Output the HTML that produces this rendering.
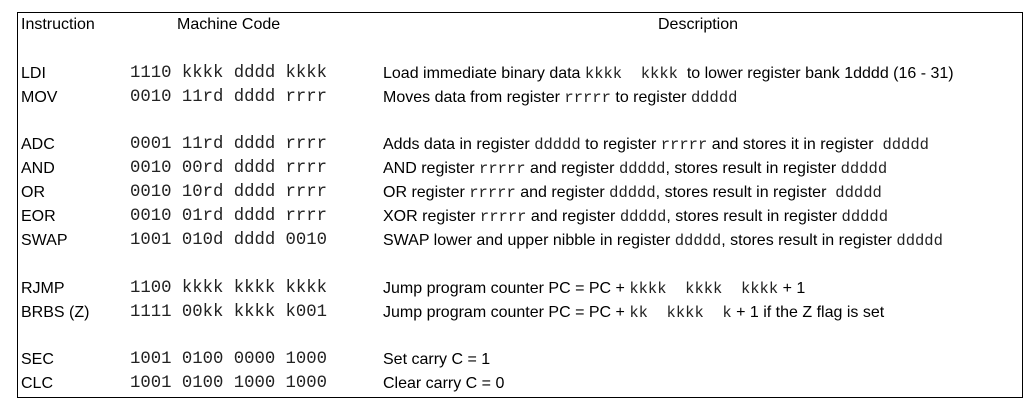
<!DOCTYPE html>
<html><head><meta charset="utf-8"><style>
body{margin:0;width:1031px;height:408px;background:#fff;position:relative;overflow:hidden;font-family:"Liberation Sans",sans-serif;font-size:16px;color:#000}
#box{position:absolute;left:17px;top:12px;width:1004px;height:384px;border:1px solid #000}
.r{position:absolute;left:0;width:1031px;height:20px;line-height:20px;white-space:pre}
.i{position:absolute;left:21px}
.c{position:absolute;left:130px;font-family:"Liberation Mono",monospace;font-size:17.3px;color:#222}
.d{position:absolute;left:383px}
.m{font-family:"Liberation Mono",monospace;font-size:15.5px;color:#222}
</style></head><body>
<div id="box"></div>
<div class="r" style="top:15px"><span class="i">Instruction</span><span style="position:absolute;left:177px">Machine Code</span><span style="position:absolute;left:658px">Description</span></div>
<div class="r" style="top:64px"><span class="i">LDI</span><span class="c">1110 kkkk dddd kkkk</span><span class="d">Load immediate binary data <span class="m">kkkk  kkkk</span>  to lower register bank 1dddd (16 - 31)</span></div>
<div class="r" style="top:88px"><span class="i">MOV</span><span class="c">0010 11rd dddd rrrr</span><span class="d">Moves data from register <span class="m">rrrrr</span> to register <span class="m">ddddd</span></span></div>
<div class="r" style="top:135px"><span class="i">ADC</span><span class="c">0001 11rd dddd rrrr</span><span class="d">Adds data in register <span class="m">ddddd</span> to register <span class="m">rrrrr</span> and stores it in register  <span class="m">ddddd</span></span></div>
<div class="r" style="top:159px"><span class="i">AND</span><span class="c">0010 00rd dddd rrrr</span><span class="d">AND register <span class="m">rrrrr</span> and register <span class="m">ddddd</span>, stores result in register <span class="m">ddddd</span></span></div>
<div class="r" style="top:183px"><span class="i">OR</span><span class="c">0010 10rd dddd rrrr</span><span class="d">OR register <span class="m">rrrrr</span> and register <span class="m">ddddd</span>, stores result in register  <span class="m">ddddd</span></span></div>
<div class="r" style="top:207px"><span class="i">EOR</span><span class="c">0010 01rd dddd rrrr</span><span class="d">XOR register <span class="m">rrrrr</span> and register <span class="m">ddddd</span>, stores result in register <span class="m">ddddd</span></span></div>
<div class="r" style="top:231px"><span class="i">SWAP</span><span class="c">1001 010d dddd 0010</span><span class="d">SWAP lower and upper nibble in register <span class="m">ddddd</span>, stores result in register <span class="m">ddddd</span></span></div>
<div class="r" style="top:279px"><span class="i">RJMP</span><span class="c">1100 kkkk kkkk kkkk</span><span class="d">Jump program counter PC = PC + <span class="m">kkkk  kkkk  kkkk</span> + 1</span></div>
<div class="r" style="top:303px"><span class="i">BRBS (Z)</span><span class="c">1111 00kk kkkk k001</span><span class="d">Jump program counter PC = PC + <span class="m">kk  kkkk  k</span> + 1 if the Z flag is set</span></div>
<div class="r" style="top:350px"><span class="i">SEC</span><span class="c">1001 0100 0000 1000</span><span class="d">Set carry C = 1</span></div>
<div class="r" style="top:374px"><span class="i">CLC</span><span class="c">1001 0100 1000 1000</span><span class="d">Clear carry C = 0</span></div>
</body></html>
